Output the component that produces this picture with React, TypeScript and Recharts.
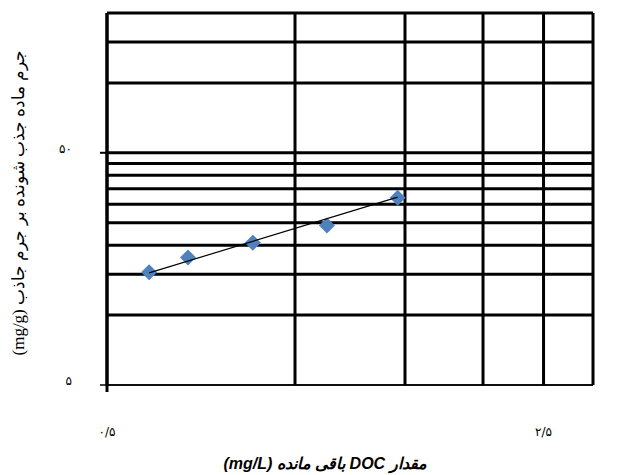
import React from 'react';
import { ScatterChart, Scatter, XAxis, YAxis, CartesianGrid, Label } from 'recharts';

// residual DOC (mg/L) vs adsorbed mass per adsorbent mass (mg/g)
const docValues = [0.584, 0.674, 0.856, 1.125, 1.46];
const qValues = [15.3, 17.7, 20.5, 24.3, 32.0];

// power trendline endpoints
const trendX = [0.584, 1.46];
const trendY = [15.2, 32.2];

const xTicks = [0.5, 1, 1.5, 2, 2.5, 3];
const yTicks = [5, 10, 15, 20, 25, 30, 35, 40, 45, 50, 100, 150, 200];

const xLabelValues = [0.5, 2.5];
const xLabelTexts = ['۰/۵', '۲/۵'];
const yLabelValues = [5, 50];
const yLabelTexts = ['۵', '۵۰'];

const xTitle = 'مقدار DOC باقی مانده (mg/L)';
const yTitle = 'جرم ماده جذب شونده بر جرم جاذب (mg/g)';

const points = docValues.map((x, i) => ({ x, y: qValues[i] }));
const trend = trendX.map((x, i) => ({ x, y: trendY[i] }));

const tickFont = { fontFamily: 'DejaVu Sans', fontSize: 12, fill: '#000' };

const XTick = (props: any) => {
  const { x, y, payload } = props;
  const idx = xLabelValues.indexOf(payload.value);
  if (idx < 0) return <g />;
  return (
    <g>
      {idx === 0 && <line x1={x} y1={y} x2={x} y2={y + 7} stroke="#000" strokeWidth={3} />}
      <text x={x} y={432} textAnchor="middle" dominantBaseline="central" style={tickFont}>
        {xLabelTexts[idx]}
      </text>
    </g>
  );
};

const YTick = (props: any) => {
  const { x, y, payload } = props;
  const idx = yLabelValues.indexOf(payload.value);
  if (idx < 0) return <g />;
  return (
    <g>
      <line x1={x - 7} y1={y} x2={x} y2={y} stroke="#000" strokeWidth={idx === 0 ? 1.5 : 2} />
      <text x={x - 35} y={y - 4} textAnchor="end" dominantBaseline="central" style={tickFont}>
        {yLabelTexts[idx]}
      </text>
    </g>
  );
};

const Diamond = (props: any) => {
  const { cx, cy } = props;
  const r = 8;
  return (
    <polygon
      points={`${cx},${cy - r} ${cx + r},${cy} ${cx},${cy + r} ${cx - r},${cy}`}
      fill="#4f81bd"
    />
  );
};

const HLine = (props: any) => {
  const { x1, y1, x2, y2 } = props;
  const bottom = y1 > 383;
  return <line x1={x1} y1={y1} x2={x2} y2={y2} stroke="#000" strokeWidth={bottom ? 1.5 : 3} />;
};

const VLine = (props: any) => {
  const { x1, y1, x2, y2 } = props;
  return <line x1={x1} y1={y1} x2={x2} y2={y2} stroke="#000" strokeWidth={3} />;
};

export default function App() {
  return (
    <div style={{ position: 'absolute', left: 0, top: 0, background: '#fff' }}>
      <ScatterChart width={627} height={475} margin={{ top: 13, right: 34, bottom: 0, left: 0 }}>
        <CartesianGrid horizontal={HLine as any} vertical={VLine as any} />
        <XAxis
          type="number"
          dataKey="x"
          scale="log"
          domain={[0.5, 3]}
          ticks={xTicks}
          interval={0}
          allowDataOverflow
          height={90}
          tickSize={0}
          tickMargin={0}
          tickLine={false}
          axisLine={{ stroke: '#000', strokeWidth: 1.5 }}
          tick={<XTick />}
        >
          <Label
            content={() => (
              <text
                x={325}
                y={463}
                textAnchor="middle"
                dominantBaseline="central"
                direction="rtl"
                style={{ fontFamily: 'Liberation Sans, DejaVu Sans', fontSize: 16, fontWeight: 'bold', fontStyle: 'italic', fill: '#000' }}
              >
                {xTitle}
              </text>
            )}
          />
        </XAxis>
        <YAxis
          type="number"
          dataKey="y"
          scale="log"
          domain={[5, 200]}
          ticks={yTicks}
          interval={0}
          allowDataOverflow
          width={107}
          tickSize={0}
          tickMargin={0}
          tickLine={false}
          axisLine={{ stroke: '#000', strokeWidth: 3 }}
          tick={<YTick />}
        >
          <Label
            content={() => (
              <text
                x={18}
                y={203}
                transform="rotate(-90, 18, 203)"
                textAnchor="middle"
                dominantBaseline="central"
                direction="rtl"
                style={{ fontFamily: 'Liberation Serif, DejaVu Serif', fontSize: 17, fill: '#000' }}
              >
                {yTitle}
              </text>
            )}
          />
        </YAxis>
        <Scatter data={points} shape={<Diamond />} isAnimationActive={false} />
        <Scatter
          data={trend}
          line={{ stroke: '#000', strokeWidth: 1.2 }}
          lineType="joint"
          shape={() => <g />}
          isAnimationActive={false}
        />
      </ScatterChart>
    </div>
  );
}
